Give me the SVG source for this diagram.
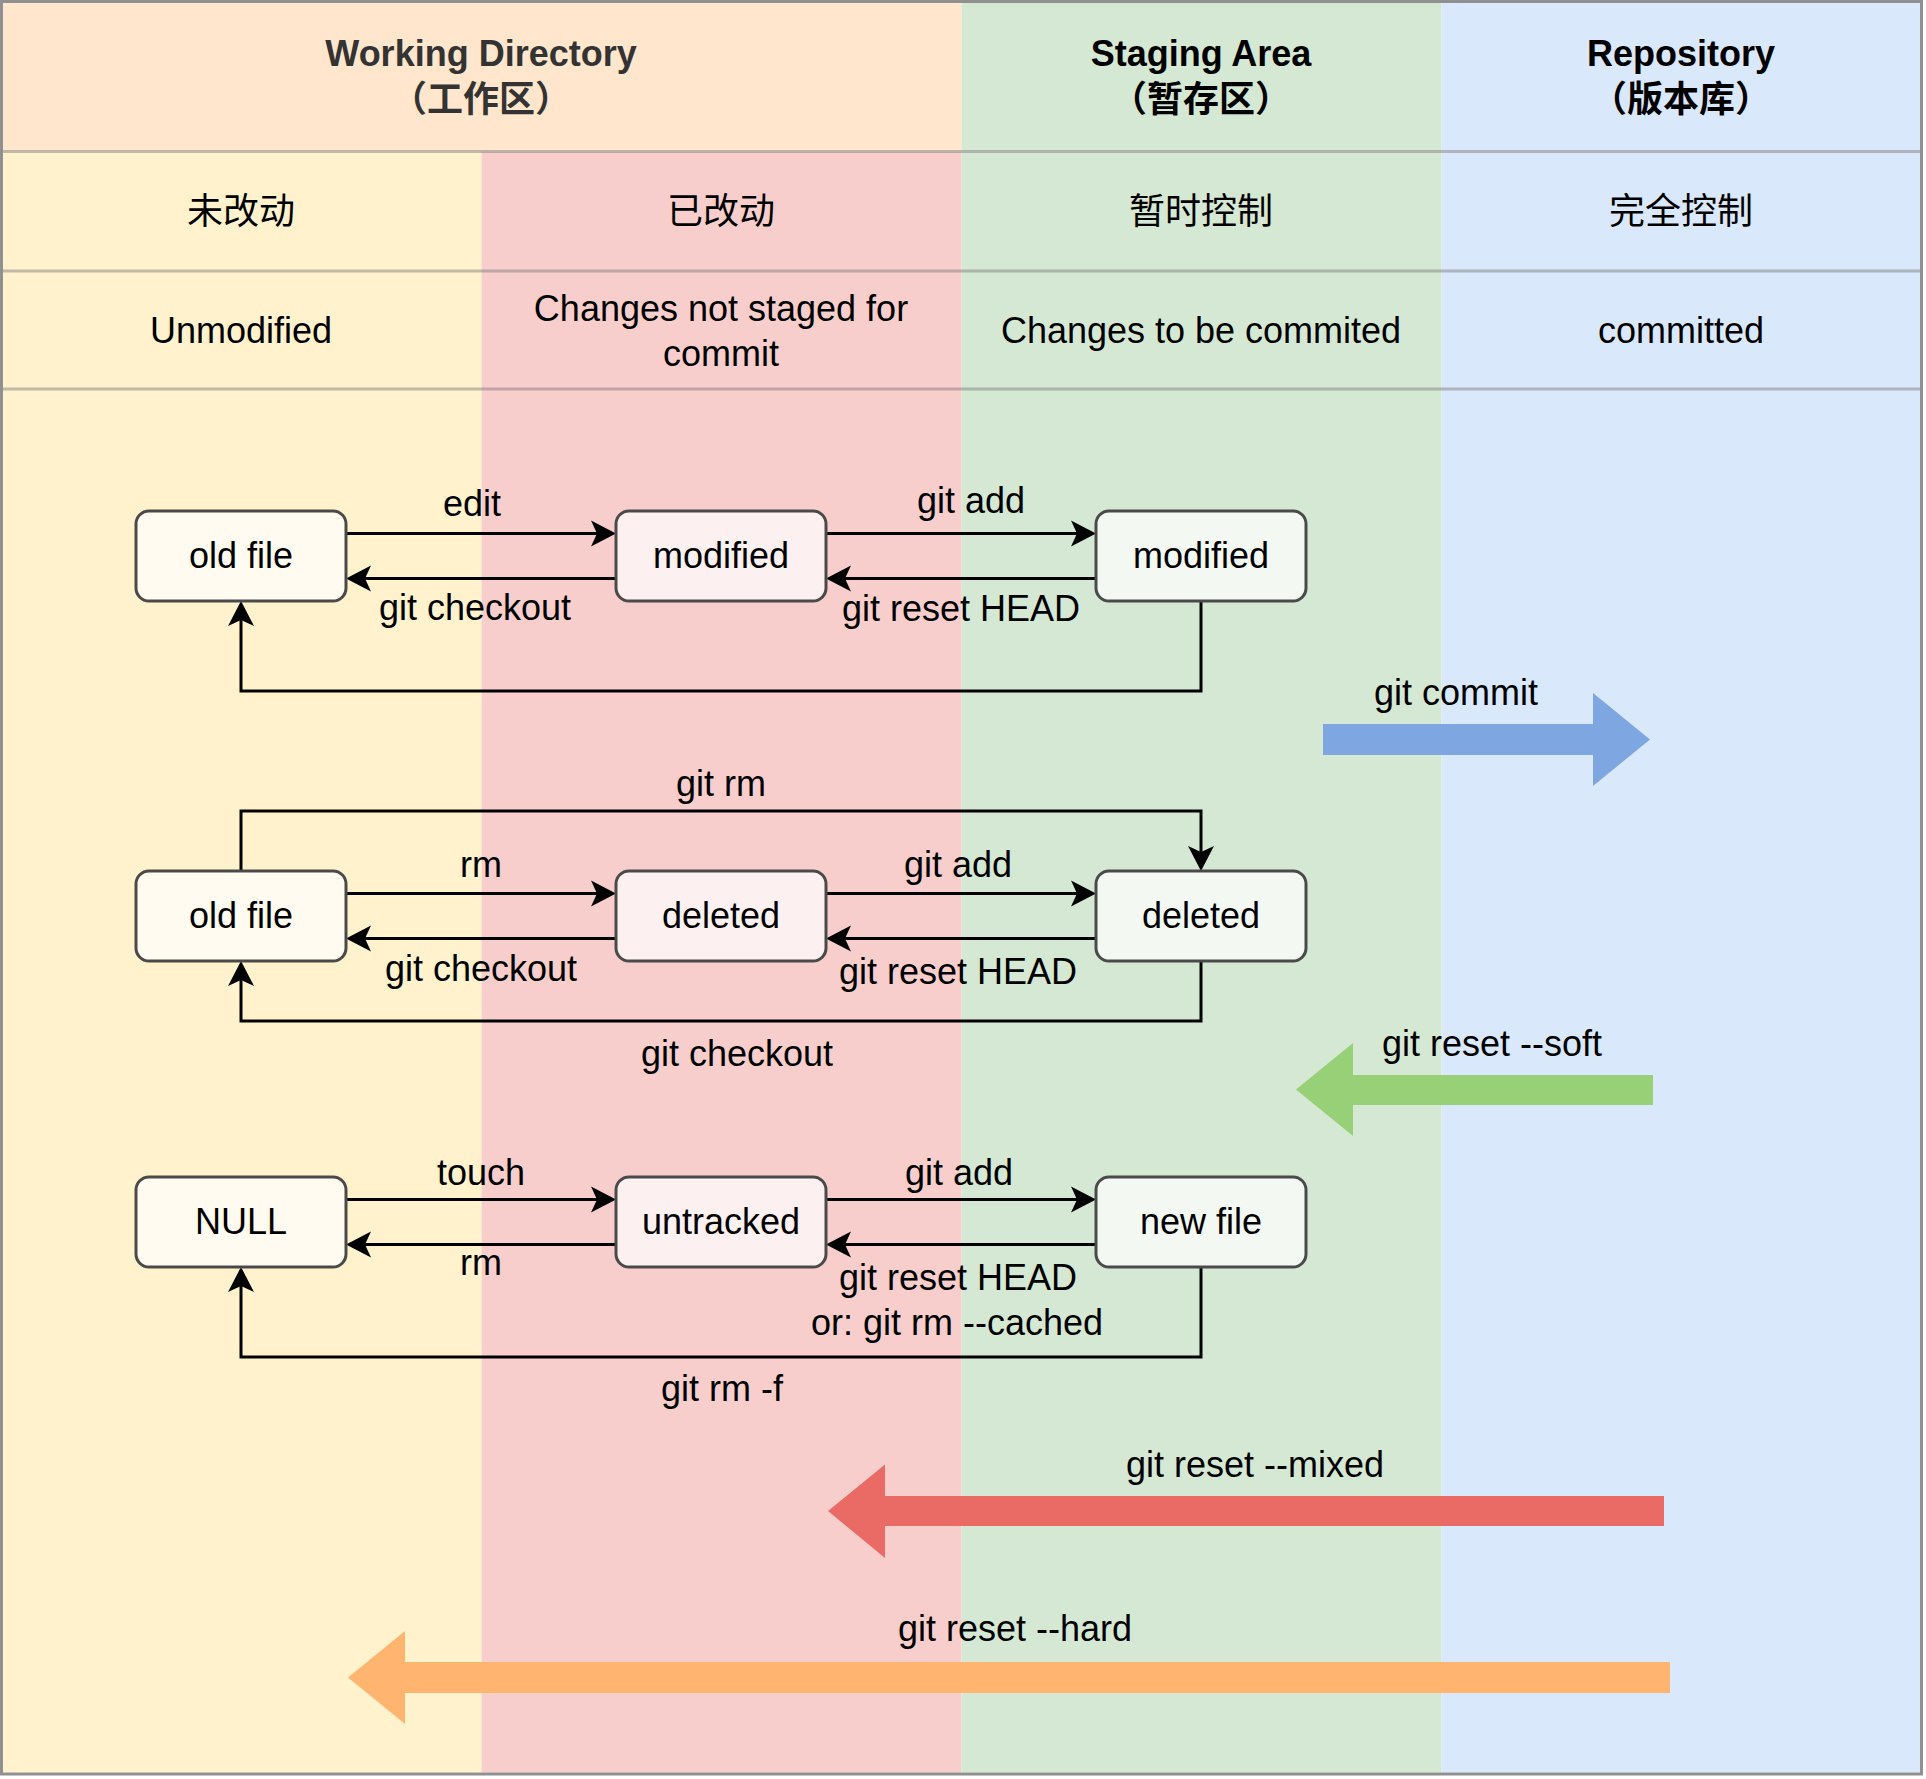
<svg xmlns="http://www.w3.org/2000/svg" width="1926" height="1779" viewBox="0 0 1926 1779">
<style>
text{font-family:"Liberation Sans",Arial,"Noto Sans CJK SC",sans-serif;font-size:36px;fill:#000;text-anchor:middle}
.hd{font-weight:bold}
.div{stroke:#808080;stroke-opacity:0.5;stroke-width:3;fill:none}
.box{stroke:#4a4a4a;stroke-width:3;fill:#fff;fill-opacity:0.7}
.edge{stroke:#000;stroke-width:3;fill:none;marker-end:url(#ah)}
</style>
<defs>
<marker id="ah" markerUnits="userSpaceOnUse" markerWidth="30" markerHeight="30" viewBox="-10 -15 30 30" refX="0" refY="0" orient="auto">
<path d="M19,0 L-6,-13 L0,0 L-6,13 Z" fill="#000"/>
</marker>
</defs>
<g id="background">
<rect x="0" y="0" width="1926" height="1779" fill="#fff"/>
<rect x="1.5" y="1.5" width="960" height="150" fill="#FFE6CC"/>
<rect x="961.5" y="1.5" width="480" height="150" fill="#D5E8D4"/>
<rect x="1441.5" y="1.5" width="480" height="150" fill="#DAE8FC"/>
<rect x="1.5" y="151.5" width="480" height="1621" fill="#FFF2CC"/>
<rect x="481.5" y="151.5" width="480" height="1621" fill="#F8CECC"/>
<rect x="961.5" y="151.5" width="480" height="1621" fill="#D5E8D4"/>
<rect x="1441.5" y="151.5" width="480" height="1621" fill="#DAE8FC"/>
<line class="div" x1="1.5" y1="151.5" x2="1921.5" y2="151.5"/>
<line class="div" x1="1.5" y1="271" x2="1921.5" y2="271"/>
<line class="div" x1="1.5" y1="389" x2="1921.5" y2="389"/>
<rect x="1.5" y="1.5" width="1920" height="1772.5" fill="none" stroke="#909090" stroke-width="3"/>
</g>
<g id="headers">
<text class="hd" x="481" y="66" style="fill:#333">Working Directory</text>
<text class="hd" x="481" y="112" style="fill:#333">（工作区）</text>
<text class="hd" x="1201" y="66">Staging Area</text>
<text class="hd" x="1201" y="112">（暂存区）</text>
<text class="hd" x="1681" y="66">Repository</text>
<text class="hd" x="1681" y="112">（版本库）</text>
<text x="241" y="224">未改动</text>
<text x="721" y="224">已改动</text>
<text x="1201" y="224">暂时控制</text>
<text x="1681" y="224">完全控制</text>
<text x="241" y="343">Unmodified</text>
<text x="721" y="321">Changes not staged for</text>
<text x="721" y="366">commit</text>
<text x="1201" y="343">Changes to be commited</text>
<text x="1681" y="343">committed</text>
</g>
<g id="connectors">
<path class="edge" d="M346,533.5 H597"/>
<path class="edge" d="M826,533.5 H1077"/>
<path class="edge" d="M1096,578.5 H845"/>
<path class="edge" d="M616,578.5 H365"/>
<path class="edge" d="M1201,601 V691 H241 V620"/>
<path class="edge" d="M346,893.5 H597"/>
<path class="edge" d="M826,893.5 H1077"/>
<path class="edge" d="M1096,938.5 H845"/>
<path class="edge" d="M616,938.5 H365"/>
<path class="edge" d="M241,871 V811 H1201 V852"/>
<path class="edge" d="M1201,961 V1021 H241 V980"/>
<path class="edge" d="M346,1199.5 H597"/>
<path class="edge" d="M826,1199.5 H1077"/>
<path class="edge" d="M1096,1244.5 H845"/>
<path class="edge" d="M616,1244.5 H365"/>
<path class="edge" d="M1201,1267 V1357 H241 V1286"/>
<text x="472" y="516">edit</text>
<text x="971" y="513">git add</text>
<text x="475" y="620">git checkout</text>
<text x="961" y="621">git reset HEAD</text>
<text x="481" y="877">rm</text>
<text x="958" y="877">git add</text>
<text x="481" y="981">git checkout</text>
<text x="958" y="984">git reset HEAD</text>
<text x="721" y="796">git rm</text>
<text x="737" y="1066">git checkout</text>
<text x="481" y="1185">touch</text>
<text x="959" y="1185">git add</text>
<text x="481" y="1275">rm</text>
<text x="958" y="1290">git reset HEAD</text>
<text x="957" y="1335">or: git rm --cached</text>
<text x="722" y="1401">git rm -f</text>
</g>
<g id="node-oldfile-1"><rect class="box" x="136" y="511" width="210" height="90" rx="13"/><text x="241" y="568">old file</text></g>
<g id="node-modified-wd"><rect class="box" x="616" y="511" width="210" height="90" rx="13"/><text x="721" y="568">modified</text></g>
<g id="node-modified-stage"><rect class="box" x="1096" y="511" width="210" height="90" rx="13"/><text x="1201" y="568">modified</text></g>
<g id="node-oldfile-2"><rect class="box" x="136" y="871" width="210" height="90" rx="13"/><text x="241" y="928">old file</text></g>
<g id="node-deleted-wd"><rect class="box" x="616" y="871" width="210" height="90" rx="13"/><text x="721" y="928">deleted</text></g>
<g id="node-deleted-stage"><rect class="box" x="1096" y="871" width="210" height="90" rx="13"/><text x="1201" y="928">deleted</text></g>
<g id="node-null"><rect class="box" x="136" y="1177" width="210" height="90" rx="13"/><text x="241" y="1234">NULL</text></g>
<g id="node-untracked"><rect class="box" x="616" y="1177" width="210" height="90" rx="13"/><text x="721" y="1234">untracked</text></g>
<g id="node-newfile"><rect class="box" x="1096" y="1177" width="210" height="90" rx="13"/><text x="1201" y="1234">new file</text></g>
<g id="arrow-commit"><path d="M1323,724 L1593,724 L1593,693 L1650,739.5 L1593,786 L1593,755 L1323,755 Z" fill="#7EA6E0"/><text x="1456" y="705">git commit</text></g>
<g id="arrow-soft"><path d="M1653,1075 L1353,1075 L1353,1043 L1296,1089.5 L1353,1136 L1353,1105 L1653,1105 Z" fill="#97D077"/><text x="1492" y="1056">git reset --soft</text></g>
<g id="arrow-mixed"><path d="M1664,1496 L885,1496 L885,1464.5 L828,1511 L885,1558 L885,1526 L1664,1526 Z" fill="#EA6B66"/><text x="1255" y="1477">git reset --mixed</text></g>
<g id="arrow-hard"><path d="M1670,1662 L405,1662 L405,1631 L348,1677.5 L405,1724 L405,1693 L1670,1693 Z" fill="#FFB570"/><text x="1015" y="1641">git reset --hard</text></g>
</svg>
